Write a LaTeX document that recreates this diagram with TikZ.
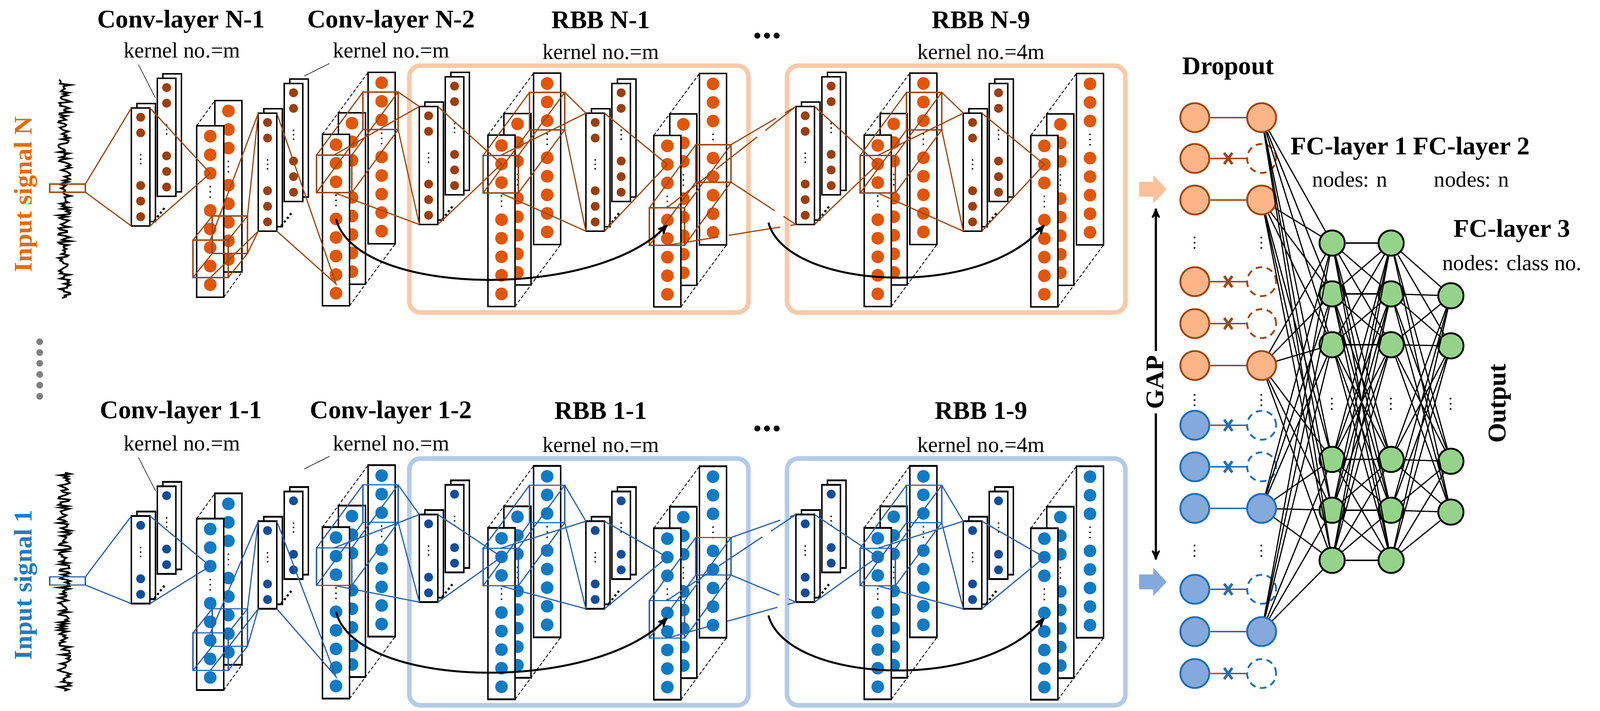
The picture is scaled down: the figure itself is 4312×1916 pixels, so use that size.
\documentclass[tikz,border=0pt]{standalone}
\usepackage{fontspec}
\setmainfont{Liberation Serif}
\usetikzlibrary{arrows,calc,positioning}

\definecolor{dotO}{HTML}{E2560A}
\definecolor{dotBr}{HTML}{9C3F0A}
\definecolor{connO}{HTML}{A0460F}
\definecolor{boxO}{HTML}{FAC9A8}
\definecolor{dotB}{HTML}{0F7BC4}
\definecolor{dotNv}{HTML}{104E9B}
\definecolor{connB}{HTML}{2A62AE}
\definecolor{boxB}{HTML}{B3CBEA}
\definecolor{dropO}{HTML}{FDB587}
\definecolor{dropB}{HTML}{84A9DC}
\definecolor{edgeB}{HTML}{1C6FBA}
\definecolor{fcG}{HTML}{95D38A}
\definecolor{txtO}{HTML}{E26B10}
\definecolor{txtB}{HTML}{1F7CC0}

% one thin feature column
\newcommand{\smallcol}[5]{%
  \draw[colbox] (#1,#2) rectangle ++(50,#3);
  \foreach \i in {1,...,#4}
    \fill[sdot] (#1+25,#2+42*\i-17) circle[radius=0.12cm];
  \foreach \i in {1,...,#5}
    \fill[sdot] (#1+25,#2+#3+17-42*\i) circle[radius=0.12cm];
  \pgfmathsetmacro{\ym}{#2+(42*#4-17+#3+17-42*#5)/2}
  \foreach \k in {-1,0,1}
    \fill (#1+25,\ym+12*\k) circle[radius=0.022cm];
}
% one wide feature column
\newcommand{\bigcol}[2]{%
  \draw[colbox] (#1,#2) rectangle ++(73,462);
  \foreach \s in {0,1,2,4,5,6,7,8}
    \fill[bdot] (#1+36.5,#2+28+50*\s) circle[radius=0.17cm];
  \foreach \k in {-1,0,1}
    \fill (#1+36.5,#2+178+14*\k) circle[radius=0.022cm];
}
\newcommand{\bigstack}[2]{%
  \bigcol{#1+123}{#2-167}
  \bigcol{#1+43}{#2-58}
  \bigcol{#1}{#2}
  \draw[depth] (#1,#2) -- (#1+123,#2-167);
  \draw[depth] (#1+73,#2+462) -- (#1+196,#2+295);
}
\newcommand{\smallpair}[2]{%
  \draw[colbox] (#1+85,#2-92) rectangle ++(50,\hs);
  \smallcol{#1+70}{#2-80}{\hs}{\nt}{\nb}
  \draw[colbox] (#1+15,#2-12) rectangle ++(50,\hs);
  \smallcol{#1}{#2}{\hs}{\nt}{\nb}
  \draw[dotted,line width=1.6pt] (#1+62,#2+\hs-14) -- (#1+92,#2+\hs-52);
}
% kernel window
\newcommand{\kcube}[4]{%
  \draw[conn] (#1,#2) rectangle ++(95,101);
  \draw[conn] (#1+#3,#2+#4) rectangle ++(95,101);
  \draw[conn] (#1,#2) -- ++(#3,#4) (#1+95,#2) -- ++(#3,#4)
              (#1,#2+101) -- ++(#3,#4) (#1+95,#2+101) -- ++(#3,#4);
}
\newcommand{\klink}[7][]{%
  \draw[conn,#1] (#2+47,#3) -- (#6,#7) (#2+47,#3+101) -- (#6,#7+\hs)
        (#2+#4+95,#3+#5) -- (#6,#7) (#2+#4+95,#3+#5+101) -- (#6,#7+\hs);
}
\newcommand{\kfan}[4]{%
  \draw[conn] (#1+50,#2) -- (#3,#4) -- (#1+50,#2+\hs);
}
\newcommand{\network}{%
  \draw[rbb] (1103,177) rectangle (2017,842);
  \draw[rbb] (2121,177) rectangle (3033,842);
  \draw[line width=1.3pt] plot[domain=215:803,samples=170,variable=\t] ({174+17*rand},\t);
  \draw[conn] (134,496) rectangle ++(96,22);
  % columns
  \smallpair{354}{291+\sdy}
  \bigcol{579}{271}
  \bigcol{530}{339}
  \draw[depth] (530,339) -- (579,271);
  \draw[depth] (603,801) -- (652,733);
  \smallpair{696}{305+\sdy}
  \bigstack{869}{362}
  \smallpair{1130}{287+\sdy}
  \bigstack{1315}{364}
  \smallpair{1579}{305+\sdy}
  \bigstack{1762}{365}
  \smallpair{2145}{287+\sdy}
  \bigstack{2329}{364}
  \smallpair{2596}{305+\sdy}
  \bigstack{2778}{365}
  % receptive fields
  \draw[conn] (230,496) -- (354,291+\sdy) (230,518) -- (354,291+\sdy+\hs);
  \kfan{354}{291+\sdy}{566.5}{467}
  \kcube{520}{647}{52}{-65}
  \klink{520}{647}{52}{-65}{696}{305+\sdy}
  \kfan{696}{305+\sdy}{905.5}{765}
  \kcube{853}{418}{125}{-170}
  \klink{853}{418}{125}{-170}{1130}{287+\sdy}
  \kfan{1130}{287+\sdy}{1351.5}{442}
  \kcube{1302}{419}{125}{-170}
  \klink{1302}{419}{125}{-170}{1579}{305+\sdy}
  \kfan{1579}{305+\sdy}{1798.5}{443}
  \kcube{1750}{560}{125}{-170}
  \klink[dash pattern=on 40pt off 8pt]{1750}{560}{125}{-170}{2145}{287+\sdy}
  \kfan{2145}{287+\sdy}{2365.5}{442}
  \kcube{2318}{419}{125}{-170}
  \klink{2318}{419}{125}{-170}{2596}{305+\sdy}
  \kfan{2596}{305+\sdy}{2814.5}{443}
  % shortcuts
  \draw[skip] (905.5,590) .. controls (960,800) and (1600,810) .. (1798.5,606);
  \draw[skip] (2071,600) .. controls (2120,780) and (2640,810) .. (2814.5,606);
  \foreach \k in {-1,0,1} \fill (2067+26*\k,96) circle[radius=0.08cm];
  \draw (373,174) -- (419,264);
  \draw (888,171) -- (820,205);
  \node[sub] at (490,136) {kernel no.=m};
  \node[sub] at (1054,136) {kernel no.=m};
  \node[sub] at (1619,140) {kernel no.=m};
  \node[sub] at (2644,140) {kernel no.=4m};
}

\begin{document}
\begin{tikzpicture}[x=0.01cm,y=-0.01cm,>=stealth']
  \tikzstyle{colbox}=[draw=black, line width=1.3pt, fill=white]
  \tikzstyle{depth}=[dash pattern=on 2.5pt off 1.5pt, line width=0.6pt]
  \tikzstyle{skip}=[->, line width=1.5pt]
  \tikzstyle{title}=[font=\fontsize{19.5}{22}\selectfont\bfseries]
  \tikzstyle{sub}=[font=\fontsize{16.7}{19}\selectfont]
  \tikzstyle{drop}=[circle, minimum size=0.78cm, inner sep=0pt, line width=1.4pt]
  \tikzstyle{or}=[fill=dropO, draw=connO]
  \tikzstyle{bl}=[fill=dropB, draw=edgeB]
  \tikzstyle{or-l}=[draw=connO, line width=1.4pt]
  \tikzstyle{bl-l}=[draw=edgeB, line width=1.4pt]
  \tikzstyle{gone}=[fill=white, dash pattern=on 5pt off 3.5pt]
  \tikzstyle{fc}=[circle, minimum size=0.68cm, inner sep=0pt, fill=fcG, draw=black, line width=1.4pt]
  \tikzstyle{fcline}=[line width=0.9pt]
  \useasboundingbox (0,0) rectangle (4312,1916);

  \begin{scope}
    \tikzstyle{sdot}=[fill=dotBr]
    \tikzstyle{bdot}=[fill=dotO]
    \tikzstyle{conn}=[draw=connO, line width=0.9pt]
    \tikzstyle{rbb}=[draw=boxO, line width=3.5pt, rounded corners=0.3cm]
    \def\hs{318}\def\nt{2}\def\nb{3}\def\sdy{0}
    \network
  \end{scope}
  \begin{scope}[yshift=-10.58cm]
    \tikzstyle{sdot}=[fill=dotNv]
    \tikzstyle{bdot}=[fill=dotB]
    \tikzstyle{conn}=[draw=connB, line width=0.9pt]
    \tikzstyle{rbb}=[draw=boxB, line width=3.5pt, rounded corners=0.3cm]
    \def\hs{236}\def\nt{1}\def\nb{2}\def\sdy{41}
    \network
  \end{scope}

  % titles
  \node[title] at (488,58) {Conv-layer N-1};
  \node[title] at (1054,58) {Conv-layer N-2};
  \node[title] at (1619,54) {RBB N-1};
  \node[title] at (2644,54) {RBB N-9};
  \node[title] at (488,1111) {Conv-layer 1-1};
  \node[title] at (1054,1111) {Conv-layer 1-2};
  \node[title] at (1619,1107) {RBB 1-1};
  \node[title] at (2644,1107) {RBB 1-9};
  \node[title, text=txtO, rotate=90] at (69,524) {Input signal N};
  \node[title, text=txtB, rotate=90] at (69,1576) {Input signal 1};
  \foreach \y in {921,950,979,1009,1038,1068} \fill[gray] (107,\y) circle[radius=0.09cm];

  % global pooling
  \fill[dropO!85] (3070,490) -- (3108,490) -- (3108,472) -- (3144,510) -- (3108,548) -- (3108,530) -- (3070,530) -- cycle;
  \fill[dropB] (3070,1548) -- (3108,1548) -- (3108,1530) -- (3144,1568) -- (3108,1606) -- (3108,1588) -- (3070,1588) -- cycle;
  \coordinate (gapT) at (3115,561);
  \coordinate (gapB) at (3115,1509);
  \draw[<->, line width=1.5pt] (gapT) -- (gapB);
  \node[title, fill=white, rotate=90] at (3113,1030) {GAP};

  % dropout
  \node[title] at (3310,185) {Dropout};
  \foreach \r/\y/\s in {1/317/or,3/539/or,6/985/or,9/1370/bl,11/1702/bl} {
    \node[drop,\s] (a\r) at (3220,\y) {};
    \node[drop,\s] (b\r) at (3400,\y) {};
    \draw[\s-l] (a\r) -- (b\r);
  }
  \foreach \r/\y/\s in {2/427/or,4/759/or,5/872/or,7/1146/bl,8/1258/bl,10/1588/bl,12/1815/bl} {
    \node[drop,\s] (a\r) at (3220,\y) {};
    \node[drop,\s-l,gone] (b\r) at (3400,\y) {};
    \draw[\s-l] (a\r) -- (b\r);
    \draw[\s-l, line width=2pt] ($(a\r)!0.5!(b\r)+(-11,-15)$) -- ++(22,30)
                                ($(a\r)!0.5!(b\r)+(11,-15)$) -- ++(-22,30);
  }
  \foreach \y in {644,1068,1474} {
    \node[font=\large] at (3220,\y) {$\vdots$};
    \node[font=\large] at (3400,\y) {$\vdots$};
  }

  % fully connected layers
  \foreach \i/\y in {1/655,2/792,3/929,4/1238,5/1375,6/1510} {
    \node[fc] (f\i) at (3590,\y) {};
    \node[fc] (g\i) at (3749,\y) {};
  }
  \foreach \i/\y in {1/797,2/932,3/1243,4/1380} \node[fc] (h\i) at (3910,\y) {};
  \foreach \x in {3590,3749,3910} \node[font=\large] at (\x,1078) {$\vdots$};
  \foreach \r in {1,3,6,9,11} \foreach \i in {1,...,6} \draw[fcline] (b\r) -- (f\i);
  \foreach \i in {1,...,6} \foreach \j in {1,...,6} \draw[fcline] (f\i) -- (g\j);
  \foreach \i in {1,...,6} \foreach \j in {1,...,4} \draw[fcline] (g\i) -- (h\j);

  \node[title] at (3636,400) {FC-layer 1};
  \node[title] at (3966,400) {FC-layer 2};
  \node[sub] at (3638,484) {nodes: n};
  \node[sub] at (3966,484) {nodes: n};
  \node[title] at (4075,622) {FC-layer 3};
  \node[sub] at (4075,709) {nodes: class no.};
  \node[title, rotate=90] at (4042,1087) {Output};
\end{tikzpicture}
\end{document}
